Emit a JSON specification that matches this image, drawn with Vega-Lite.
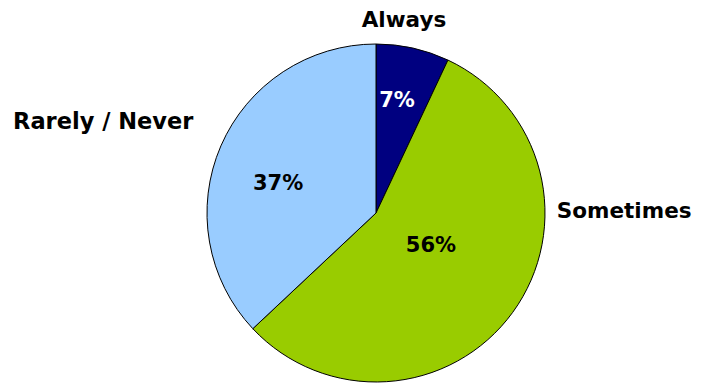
{
  "$schema": "https://vega.github.io/schema/vega-lite/v6.json",
  "width": 752,
  "height": 426,
  "autosize": "none",
  "padding": 0,
  "background": "white",
  "config": {"view": {"stroke": null}},
  "data": {
    "values": [
      {"category": "Always", "value": 7, "label": "7%", "ord": 1},
      {"category": "Sometimes", "value": 56, "label": "56%", "ord": 2},
      {"category": "Rarely / Never", "value": 37, "label": "37%", "ord": 3}
    ]
  },
  "encoding": {
    "theta": {"field": "value", "type": "quantitative", "stack": true},
    "order": {"field": "ord", "type": "quantitative"}
  },
  "layer": [
    {
      "mark": {"type": "arc", "outerRadius": 169, "stroke": "black", "strokeWidth": 1},
      "encoding": {
        "color": {
          "field": "category",
          "type": "nominal",
          "sort": ["Always", "Sometimes", "Rarely / Never"],
          "scale": {"domain": ["Always", "Sometimes", "Rarely / Never"], "range": ["#000080", "#99CC00", "#99CCFF"]},
          "legend": null
        }
      }
    },
    {
      "mark": {"type": "text", "radius": 115, "dx": -4, "dy": 0, "font": "DejaVu Sans", "fontWeight": "bold", "fontSize": 21, "fill": "white", "align": "center", "baseline": "middle"},
      "encoding": {"text": {"condition": {"test": "datum.category === 'Always'", "field": "label"}, "value": ""}}
    },
    {
      "mark": {"type": "text", "radius": 63, "dx": 4, "dy": -4, "font": "DejaVu Sans", "fontWeight": "bold", "fontSize": 21, "fill": "black", "align": "center", "baseline": "middle"},
      "encoding": {"text": {"condition": {"test": "datum.category === 'Sometimes'", "field": "label"}, "value": ""}}
    },
    {
      "mark": {"type": "text", "radius": 110, "dx": 3, "dy": 15, "font": "DejaVu Sans", "fontWeight": "bold", "fontSize": 21, "fill": "black", "align": "center", "baseline": "middle"},
      "encoding": {"text": {"condition": {"test": "datum.category === 'Rarely / Never'", "field": "label"}, "value": ""}}
    },
    {
      "mark": {"type": "text", "radius": 197, "dx": -15, "dy": 0, "font": "DejaVu Sans", "fontWeight": "bold", "fontSize": 21.5, "fill": "black", "align": "center", "baseline": "middle"},
      "encoding": {"text": {"condition": {"test": "datum.category === 'Always'", "field": "category"}, "value": ""}}
    },
    {
      "mark": {"type": "text", "radius": 185, "dx": 98.5, "dy": -110, "font": "DejaVu Sans", "fontWeight": "bold", "fontSize": 21.5, "fill": "black", "align": "center", "baseline": "middle"},
      "encoding": {"text": {"condition": {"test": "datum.category === 'Sometimes'", "field": "category"}, "value": ""}}
    },
    {
      "mark": {"type": "text", "radius": 185, "dx": -103, "dy": -18, "font": "DejaVu Sans", "fontWeight": "bold", "fontSize": 22.5, "fill": "black", "align": "center", "baseline": "middle"},
      "encoding": {"text": {"condition": {"test": "datum.category === 'Rarely / Never'", "field": "category"}, "value": ""}}
    }
  ]
}
